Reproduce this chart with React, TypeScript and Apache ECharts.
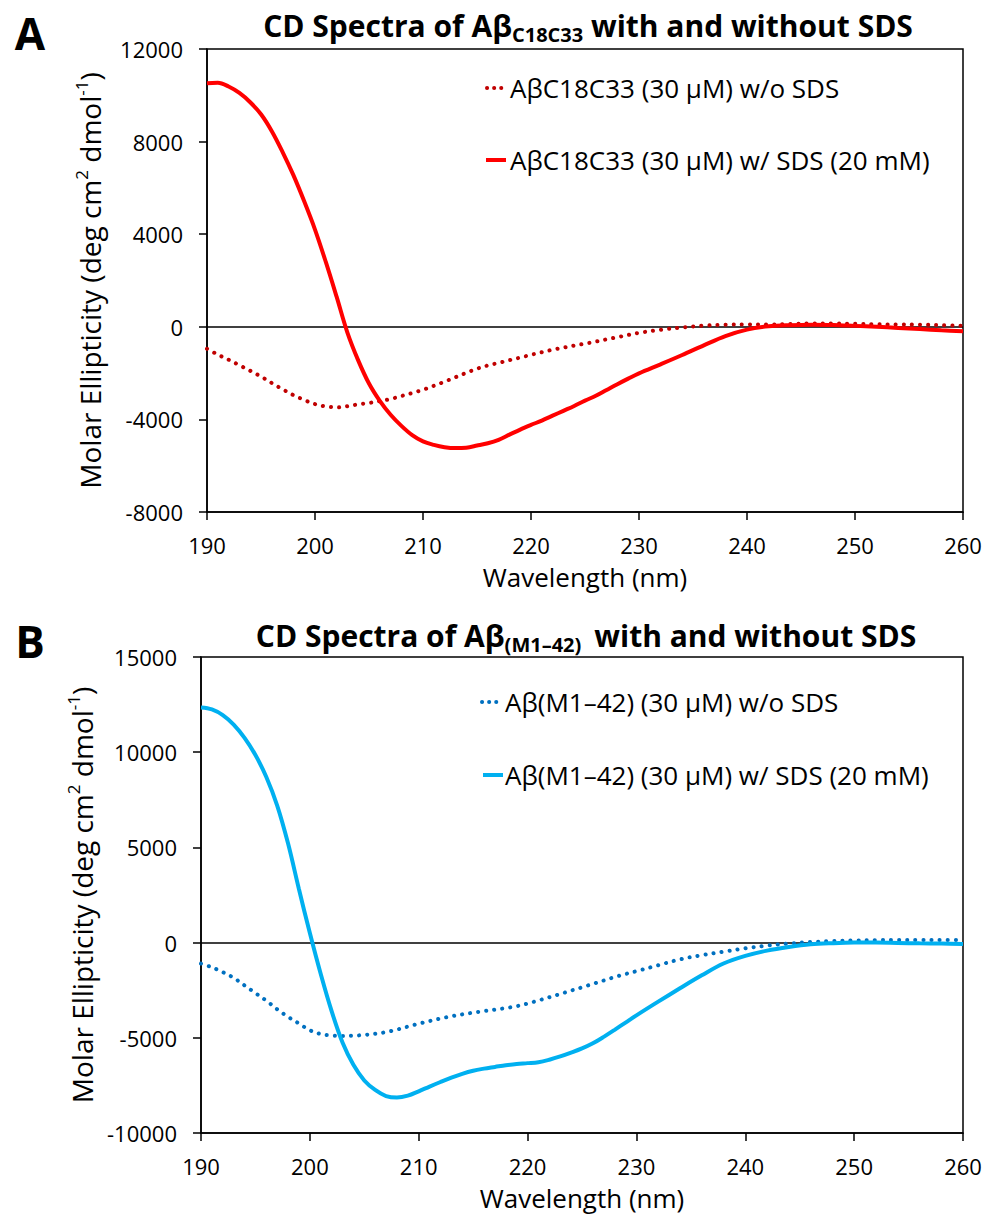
import React, { useEffect, useRef } from "react";
import * as echarts from "echarts";

const FONT = '"Open Sans", "Liberation Sans", sans-serif';

// Wavelength grids (nm)
const wavelengthA = [
  190, 191, 192, 193, 194, 195, 196, 197, 198, 199,
  200, 201, 202, 203, 204, 205, 206, 207, 208, 209,
  210, 211, 212, 213, 214, 215, 216, 217, 218, 219,
  220, 221, 222, 223, 224, 225, 226, 227, 228, 229,
  230, 232, 234, 236, 238, 240, 242, 244, 246, 248, 250, 252, 254, 256, 258, 260,
];
const wavelengthB = wavelengthA.slice();

// Panel A: AβC18C33 molar ellipticity (deg cm2 dmol-1)
const ellipA_noSDS = [
  -950, -1200, -1420, -1660, -1900, -2150, -2430, -2700, -2950, -3160,
  -3340, -3440, -3480, -3430, -3350, -3290, -3210, -3120, -2990, -2860,
  -2720, -2550, -2370, -2180, -1990, -1810, -1670, -1560, -1440, -1330,
  -1210, -1100, -990, -900, -810, -730, -640, -540, -450, -350,
  -260, -130, -30, 50, 90, 100, 100, 120, 140, 140, 130, 110, 100, 90, 70, 40,
];
const ellipA_withSDS = [
  10520, 10540, 10380, 10100, 9700, 9180, 8450, 7550, 6550, 5420,
  4200, 2800, 1300, -250, -1450, -2450, -3200, -3800, -4280, -4680,
  -4950, -5100, -5200, -5240, -5220, -5130, -5030, -4880, -4660, -4440,
  -4240, -4050, -3840, -3630, -3420, -3190, -2980, -2730, -2480, -2240,
  -2010, -1620, -1220, -800, -400, -120, 20, 70, 90, 80, 40, 0, -50, -100, -150, -190,
];

// Panel B: Aβ(M1–42) molar ellipticity
const ellipB_noSDS = [
  -1100, -1300, -1550, -1850, -2250, -2650, -3050, -3500, -3900, -4250,
  -4600, -4800, -4880, -4900, -4890, -4850, -4790, -4700, -4570, -4410,
  -4260, -4120, -3990, -3870, -3770, -3680, -3600, -3520, -3440, -3340,
  -3200, -3040, -2870, -2700, -2520, -2350, -2170, -1990, -1810, -1650,
  -1500, -1190, -880, -660, -480, -300, -160, -50, 30, 80, 110, 130, 140, 140, 140, 140,
];
const ellipB_withSDS = [
  12350, 12250, 11950, 11450, 10750, 9850, 8700, 7200, 5200, 2800,
  500, -1650, -3600, -5250, -6420, -7240, -7740, -8060, -8140, -8040,
  -7810, -7560, -7320, -7090, -6890, -6730, -6620, -6530, -6440, -6370,
  -6330, -6280, -6150, -5980, -5780, -5560, -5290, -4950, -4580, -4200,
  -3820, -3100, -2400, -1720, -1100, -700, -420, -230, -90, -30, 0, 0, -20, -40, -50, -70,
];

// Axis ranges / ticks
const xRange = { min: 190, max: 260, interval: 10 };
const yRangeA = { min: -8000, max: 12000, interval: 4000 };
const yRangeB = { min: -10000, max: 15000, interval: 5000 };

const legendA = ["AβC18C33 (30 μM) w/o SDS", "AβC18C33 (30 μM) w/ SDS (20 mM)"];
const legendB = ["Aβ(M1–42) (30 μM) w/o SDS", "Aβ(M1–42) (30 μM) w/ SDS (20 mM)"];

const colorA = { dotted: "#C00000", solid: "#FF0000" };
const colorB = { dotted: "#0070C0", solid: "#00B0F0" };

function zip(xs: number[], ys: number[]) {
  return xs.map((x, i) => [x, ys[i]]);
}

export default function App() {
  const ref = useRef<HTMLDivElement>(null);

  useEffect(() => {
    const chart = echarts.init(ref.current as HTMLDivElement, null, { renderer: "svg" });

    const plain = (v: number) => String(v);

    const xAxisFor = (gridIndex: number) => ({
      type: "value",
      gridIndex,
      ...xRange,
      name: "Wavelength (nm)",
      nameLocation: "middle",
      nameGap: 52,
      nameTextStyle: { fontFamily: FONT, fontSize: 26, color: "#000" },
      axisLine: { onZero: false, lineStyle: { color: "#000", width: 1.5 } },
      axisTick: { show: true, inside: false, length: 8, lineStyle: { color: "#000", width: 1.5 } },
      axisLabel: { fontFamily: FONT, fontSize: 22, color: "#000", margin: 22, formatter: plain },
      splitLine: { show: false },
    });

    const yName = "{a|Molar Ellipticity (deg cm}{s|2}{a| dmol}{s|-1}{a|)}";
    const yAxisFor = (gridIndex: number, range: any) => ({
      type: "value",
      gridIndex,
      ...range,
      name: yName,
      nameLocation: "middle",
      nameGap: 100,
      nameTextStyle: {
        color: "#000",
        rich: {
          a: { fontFamily: FONT, fontSize: 28, color: "#000", lineHeight: 34 },
          s: { fontFamily: FONT, fontSize: 17, color: "#000", lineHeight: 14, verticalAlign: "top" },
        },
      },
      axisLine: { onZero: false, lineStyle: { color: "#000", width: 1.5 } },
      axisTick: { show: true, inside: false, length: 8, lineStyle: { color: "#000", width: 1.5 } },
      axisLabel: { fontFamily: FONT, fontSize: 22, color: "#000", margin: 24, formatter: plain },
      splitLine: { show: false },
    });

    const zeroLine = {
      silent: true,
      symbol: "none",
      z: 1,
      label: { show: false },
      lineStyle: { color: "#000", width: 1.5, type: "solid" },
      data: [{ yAxis: 0 }],
    };

    const dottedStyle = (color: string) => ({ color, width: 4, type: [0.1, 8], cap: "round" });
    const solidStyle = (color: string) => ({ color, width: 4, type: "solid" });

    const titleText = (x: number, y: number, sub: string) => ({
      type: "text",
      x,
      y,
      style: {
        text: `{b|CD Spectra of Aβ}{s|${sub}}{b| with and without SDS}`,
        align: "center",
        verticalAlign: "middle",
        rich: {
          b: { fontFamily: FONT, fontSize: 30, fontWeight: "bold", fill: "#000", lineHeight: 38 },
          s: { fontFamily: FONT, fontSize: 20, fontWeight: "bold", fill: "#000", lineHeight: 14, verticalAlign: "bottom" },
        },
      },
    });

    const legendItem = (x1: number, y: number, color: string, dotted: boolean, label: string, textX: number) => [
      {
        type: "line",
        shape: { x1, y1: y, x2: x1 + 20, y2: y },
        style: dotted
          ? { stroke: color, lineWidth: 4, lineDash: [0.1, 7], lineCap: "round" }
          : { stroke: color, lineWidth: 4 },
      },
      {
        type: "text",
        x: textX,
        y,
        style: { text: label, font: `26px ${FONT}`, fill: "#000", verticalAlign: "middle", align: "left" },
      },
    ];

    const panelLabel = (x: number, y: number, t: string) => ({
      type: "text",
      x,
      y,
      style: { text: t, font: `bold 44px ${FONT}`, fill: "#000", align: "center", verticalAlign: "middle" },
    });

    chart.setOption({
      animation: false,
      backgroundColor: "#fff",
      grid: [
        { left: 207, top: 49, width: 756, height: 463, show: true, borderColor: "#000", borderWidth: 1.5, backgroundColor: "transparent" },
        { left: 201, top: 657, width: 762, height: 476, show: true, borderColor: "#000", borderWidth: 1.5, backgroundColor: "transparent" },
      ],
      xAxis: [xAxisFor(0), xAxisFor(1)],
      yAxis: [yAxisFor(0, yRangeA), yAxisFor(1, yRangeB)],
      series: [
        {
          type: "line",
          name: legendA[0],
          xAxisIndex: 0,
          yAxisIndex: 0,
          data: zip(wavelengthA, ellipA_noSDS),
          symbol: "none",
          smooth: 0.35,
          lineStyle: dottedStyle(colorA.dotted),
          markLine: zeroLine,
          z: 3,
        },
        {
          type: "line",
          name: legendA[1],
          xAxisIndex: 0,
          yAxisIndex: 0,
          data: zip(wavelengthA, ellipA_withSDS),
          symbol: "none",
          smooth: 0.35,
          lineStyle: solidStyle(colorA.solid),
          z: 4,
        },
        {
          type: "line",
          name: legendB[0],
          xAxisIndex: 1,
          yAxisIndex: 1,
          data: zip(wavelengthB, ellipB_noSDS),
          symbol: "none",
          smooth: 0.35,
          lineStyle: dottedStyle(colorB.dotted),
          markLine: zeroLine,
          z: 3,
        },
        {
          type: "line",
          name: legendB[1],
          xAxisIndex: 1,
          yAxisIndex: 1,
          data: zip(wavelengthB, ellipB_withSDS),
          symbol: "none",
          smooth: 0.35,
          lineStyle: solidStyle(colorB.solid),
          z: 4,
        },
      ],
      graphic: [
        panelLabel(30, 33, "A"),
        panelLabel(30, 641, "B"),
        titleText(588, 25, "C18C33"),
        titleText(586, 635, "(M1–42) "),
        ...legendItem(487, 88, colorA.dotted, true, legendA[0], 510),
        ...legendItem(486, 160, colorA.solid, false, legendA[1], 510),
        ...legendItem(482, 702, colorB.dotted, true, legendB[0], 505),
        ...legendItem(483, 775, colorB.solid, false, legendB[1], 505),
      ],
    });

    return () => chart.dispose();
  }, []);

  return (
    <div
      ref={ref}
      style={{ position: "absolute", left: 0, top: 0, width: 989, height: 1217, background: "#fff" }}
    />
  );
}
